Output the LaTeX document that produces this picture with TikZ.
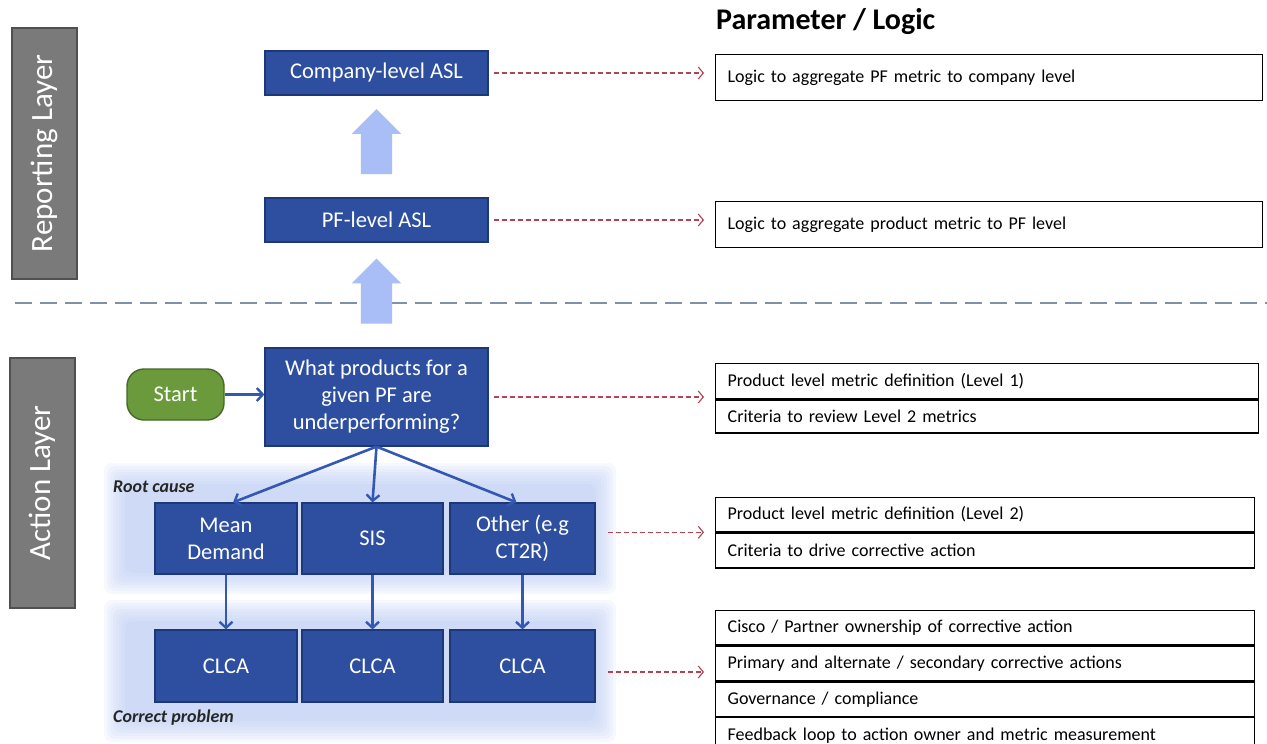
\documentclass[tikz,border=0pt]{standalone}
\usepackage{fontspec}
\setmainfont{Carlito}
\usetikzlibrary{arrows.meta,calc,shapes.arrows}

\definecolor{boxblue}{HTML}{2E4F9F}
\definecolor{boxbluedark}{HTML}{1D3878}
\definecolor{layergray}{HTML}{7A7A7A}
\definecolor{layergraydark}{HTML}{505050}
\definecolor{startgreen}{HTML}{6A9A3C}
\definecolor{startgreendark}{HTML}{46682A}
\definecolor{flowblue}{HTML}{3457B2}
\definecolor{liftblue}{HTML}{A9BEF6}
\definecolor{glowblue}{HTML}{B9CCF6}
\definecolor{linkred}{HTML}{B04455}
\definecolor{sepgray}{HTML}{8090A8}

\tikzset{
  layerbox/.style={fill=layergray, draw=layergraydark, line width=1.2pt,
    text=white, font=\fontsize{31}{34}\selectfont,
    minimum width=251pt, minimum height=65pt, inner sep=0pt},
  bluebox/.style={fill=boxblue, draw=boxbluedark, line width=1.2pt,
    text=white, font=\fontsize{22.5}{27}\selectfont, align=center, inner sep=0pt},
  startbox/.style={fill=startgreen, draw=startgreendark, line width=1.4pt,
    rounded corners=17pt, text=white, font=\fontsize{22.5}{26}\selectfont,
    minimum width=97pt, minimum height=51pt, inner sep=0pt},
  flow/.style={draw=flowblue, line width=2.6pt,
    -{Straight Barb[length=6pt,width=13pt,line width=2.4pt]}},
  lift/.style={single arrow, fill=liftblue, draw=none, rotate=90,
    minimum height=65pt, inner xsep=0pt, inner ysep=15.5pt,
    single arrow head extend=9pt, single arrow tip angle=90},
  link/.style={draw=linkred, line width=1.1pt, dash pattern=on 5pt off 3pt,
    -{Straight Barb[length=5pt,width=12pt,line width=1.1pt]},
    shorten <=5pt, shorten >=11pt},
  cell/.style={draw=black, line width=1.3pt, fill=white, anchor=north west,
    text width=#1, inner xsep=12pt, inner ysep=0pt, minimum height=34pt,
    align=left, font=\fontsize{18}{21}\selectfont},
  tag/.style={anchor=west, font=\bfseries\itshape\fontsize{18}{21}\selectfont,
    text=black!85, inner sep=0pt}
}

\begin{document}
\begin{tikzpicture}[x=1pt, y=-1pt]
\useasboundingbox (0,0) rectangle (1267,744);
\fill[white] (0,0) rectangle (1267,744);

% soft blue bands behind the root-cause and corrective-action rows
\foreach \i in {0,...,7} {
  \fill[glowblue, opacity=0.12, rounded corners=8pt]
    (104+\i*3, 463+\i*3) rectangle (616-\i*3, 594-\i*3);
  \fill[glowblue, opacity=0.12, rounded corners=8pt]
    (104+\i*3, 600+\i*3) rectangle (616-\i*3, 742-\i*3);
}

% separator between the two layers
\draw[sepgray, line width=2pt, dash pattern=on 17pt off 8pt] (15,303) -- (1267,303);

% layer labels
\node[layerbox, rotate=90] (rep) at (44.5,153.5) {Reporting Layer};
\node[layerbox, rotate=90, minimum width=250pt] (act) at (42.5,483) {Action Layer};

% reporting layer
\node[bluebox, minimum width=223pt, minimum height=44pt] (comp) at (376.5,73) {Company-level ASL};
\node[bluebox, minimum width=223pt, minimum height=44pt] (pf) at (376.5,220) {PF-level ASL};

% action layer
\node[bluebox, minimum width=223pt, minimum height=98pt] (q) at (376.5,397)
  {What products for a\\given PF are\\underperforming?};
\node[startbox] (start) at (175.5,394.5) {Start};

\node[bluebox, minimum width=142pt, minimum height=71pt] (md) at (226,538.5) {Mean\\Demand};
\node[bluebox, minimum width=141pt, minimum height=71pt] (sis) at (372.5,538.5) {SIS};
\node[bluebox, minimum width=145pt, minimum height=71pt] (oth) at (522.5,538.5) {Other (e.g\\CT2R)};

\node[bluebox, minimum width=142pt, minimum height=72pt] (c1) at (226,666) {CLCA};
\node[bluebox, minimum width=141pt, minimum height=72pt] (c2) at (372.5,666) {CLCA};
\node[bluebox, minimum width=145pt, minimum height=72pt] (c3) at (522.5,666) {CLCA};

\node[tag] (rc) at (113,487) {Root cause};
\node[tag] (cp) at (113,718) {Correct problem};

% aggregation arrows
\node[lift] (up1) at ($(comp.south)!0.5!(pf.north)+(0,3)$) {};
\node[lift] (up2) at ($(pf.south)!0.5!(q.north)+(0,4)$) {};

% flow connectors
\draw[flow] (start) -- (start -| q.west);
\draw[flow] (q.south) -- ($(md.north)+(7,0)$);
\draw[flow] (q.south) -- (sis.north);
\draw[flow] (q.south) -- ($(oth.north)+(-6,0)$);
\draw[flow] (md) -- (c1);
\draw[flow] (sis) -- (c2);
\draw[flow] (oth) -- (c3);

% parameter / logic column
\node[anchor=west, font=\bfseries\fontsize{30}{34}\selectfont, inner sep=0pt] (hdr) at (716,22) {Parameter / Logic};

\node[cell=523pt, minimum height=46pt] (l1) at (715,54) {Logic to aggregate PF metric to company level};
\node[cell=523pt, minimum height=46pt] (l2) at (715,201) {Logic to aggregate product metric to PF level};

\node[cell=519pt, minimum height=35pt] (p1a) at (715,363) {Product level metric definition (Level 1)};
\node[cell=519pt, minimum height=33pt] (p1b) at (p1a.south west) {Criteria to review Level 2 metrics};

\node[cell=515pt] (p2a) at (715,497) {Product level metric definition (Level 2)};
\node[cell=515pt, minimum height=35pt] (p2b) at (p2a.south west) {Criteria to drive corrective action};

\node[cell=515pt] (p3a) at (715,610) {Cisco / Partner ownership of corrective action};
\node[cell=515pt, minimum height=35pt] (p3b) at (p3a.south west) {Primary and alternate / secondary corrective actions};
\node[cell=515pt] (p3c) at (p3b.south west) {Governance / compliance};
\node[cell=515pt, minimum height=36pt] (p3d) at (p3c.south west) {Feedback loop to action owner and metric measurement};

% links to the parameter boxes
\coordinate (c3out) at ($(c3.east)+(0,6)$);
\draw[link] (comp.east) -- (comp.east -| l1.west);
\draw[link] (pf.east) -- (pf.east -| l2.west);
\draw[link] (q.east) -- (q.east -| p1a.west);
\draw[link, shorten <=12pt] (p2a.south west -| oth.east) -- (p2a.south west);
\draw[link, shorten <=12pt] (c3out) -- (c3out -| p3b.west);
\end{tikzpicture}
\end{document}
